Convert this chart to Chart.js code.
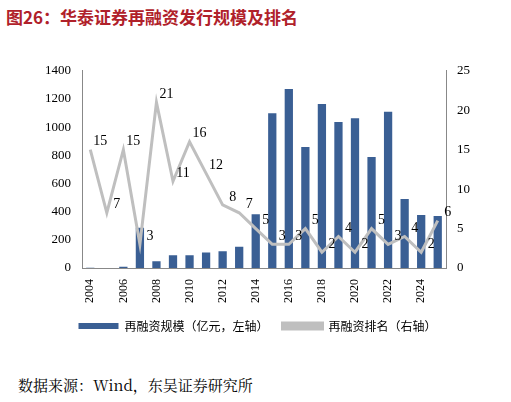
<!DOCTYPE html><html><head><meta charset="utf-8">
<script src="https://cdn.jsdelivr.net/npm/chart.js@4"></script>
<style>body{margin:0;width:511px;height:402px;background:#fff;font-family:"Noto Sans CJK SC";position:relative}
#t{position:absolute;left:6px;top:4px;font-size:17px;font-weight:bold;color:#b0212a;font-family:"Noto Sans CJK SC"}
#s{position:absolute;left:18px;top:374px;font-size:15px;color:#000;font-family:"Noto Serif CJK SC","Noto Sans CJK SC"}
#w{position:absolute;left:0;top:60px;width:511px;height:282px}</style></head><body>
<div id="t">图26：华泰证券再融资发行规模及排名</div>
<div id="w"><canvas id="c"></canvas></div>
<div id="s">数据来源：Wind，东吴证券研究所</div>
<script>
const years=["2004","2005","2006","2007","2008","2009","2010","2011","2012","2013","2014","2015","2016","2017","2018","2019","2020","2021","2022","2023","2024","2025"];
const scale=[2,0,8,286,48,90,90,110,119,150,382,1098,1270,859,1165,1036,1064,788,1110,489,377,370];
const rank=[15,7,15,3,21,11,16,12,8,7,5,3,3,5,2,4,2,5,3,4,2,6];
const lbl={id:'lbl',afterDatasetsDraw(ch){const m=ch.getDatasetMeta(1),ctx=ch.ctx;ctx.save();ctx.font='14px "Liberation Serif"';ctx.fillStyle='#000';ctx.textAlign='center';
m.data.forEach((p,i)=>{ctx.fillText(rank[i],p.x+10,p.y-8);});ctx.restore();}};
new Chart(document.getElementById('c'),{data:{labels:years,datasets:[
{type:'bar',label:'再融资规模（亿元，左轴）',data:scale,backgroundColor:'#3a5f94',yAxisID:'y',barPercentage:0.5,categoryPercentage:1,order:2},
{type:'line',label:'再融资排名（右轴）',data:rank,borderColor:'#bfbfbf',backgroundColor:'#bfbfbf',borderWidth:3,pointRadius:0,yAxisID:'y1',tension:0,order:1}]},
plugins:[lbl],options:{responsive:true,maintainAspectRatio:false,animation:false,
layout:{padding:{left:42,right:38,top:4}},
plugins:{legend:{position:'bottom',reverse:true,labels:{boxWidth:40,boxHeight:6,padding:14,font:{size:12,family:'"Noto Sans CJK SC"'},color:'#000'}},tooltip:{enabled:false}},
scales:{x:{grid:{display:false},ticks:{minRotation:90,maxRotation:90,color:'#000',font:{size:12,family:'"Liberation Serif"'}},border:{color:'#888'}},
y:{min:0,max:1400,ticks:{stepSize:200,color:'#000',callback:v=>String(v),font:{size:13,family:'"Liberation Serif"'}},grid:{display:false},border:{color:'#888'}},
y1:{position:'right',min:0,max:25,ticks:{stepSize:5,color:'#000',font:{size:13,family:'"Liberation Serif"'}},grid:{display:false},border:{color:'#888'}}}}});
</script></body></html>
